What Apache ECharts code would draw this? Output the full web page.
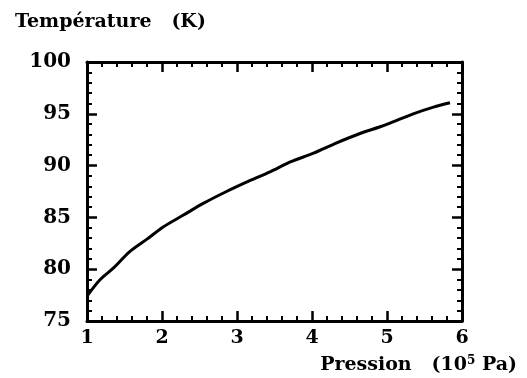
<!DOCTYPE html>
<html>
<head>
<meta charset="utf-8">
<script src="https://cdn.jsdelivr.net/npm/echarts@6/dist/echarts.min.js"></script>
<style>html,body{margin:0;padding:0;background:#fff}#c{width:527px;height:378px}</style>
</head>
<body>
<div id="c"></div>
<script>
const pressure = [1.00, 1.17, 1.35, 1.57, 1.80, 2.02, 2.28, 2.55, 2.86, 3.17, 3.44, 3.71, 4.02, 4.33, 4.64, 4.91, 5.04, 5.35, 5.62, 5.84];
const temperature = [77.4, 78.96, 80.1, 81.7, 82.9, 84.1, 85.2, 86.35, 87.5, 88.55, 89.4, 90.35, 91.2, 92.2, 93.1, 93.75, 94.1, 95.0, 95.65, 96.07];
const xTicks = [1, 2, 3, 4, 5, 6];
const yTicks = [75, 80, 85, 90, 95, 100];
const yTitle = 'Température   (K)';
const xTitle = 'Pression';

const font = 'DejaVu Serif';
const chart = echarts.init(document.getElementById('c'), null, {renderer: 'canvas'});
const axisCommon = {
  axisLine: {show: true, onZero: false, lineStyle: {color: '#000', width: 3}},
  axisTick: {show: true, inside: true, length: 10, lineStyle: {color: '#000', width: 2.5}},
  minorTick: {show: true, splitNumber: 5, length: 5, lineStyle: {color: '#000', width: 2}},
  splitLine: {show: false}
};
chart.setOption({
  animation: false,
  backgroundColor: '#fff',
  title: {
    text: yTitle, left: 10, top: 8,
    textStyle: {fontFamily: font, fontSize: 19, fontWeight: 'bold', color: '#000'}
  },
  grid: {left: 87, right: 65, top: 62, bottom: 57},
  xAxis: [
    Object.assign({}, axisCommon, {
      type: 'value', position: 'bottom', min: xTicks[0], max: xTicks[xTicks.length - 1], interval: 1,
      axisLabel: {color: '#000', fontFamily: font, fontWeight: 'bold', fontSize: 19, margin: 8},
      name: '{p|' + xTitle + '   (10}{s|5}{p| Pa)}', nameLocation: 'end', nameGap: 55,
      nameTextStyle: {
        color: '#000', fontFamily: font, fontSize: 19, fontWeight: 'bold', align: 'right', verticalAlign: 'top', padding: [34, 0, 0, 0],
        rich: {
          p: {fontFamily: font, fontSize: 19, fontWeight: 'bold', color: '#000'},
          s: {fontFamily: font, fontSize: 12, fontWeight: 'bold', color: '#000', verticalAlign: 'top', padding: [0, 0, 9, 0]}
        }
      }
    }),
    Object.assign({}, axisCommon, {
      type: 'value', position: 'top', min: xTicks[0], max: xTicks[xTicks.length - 1], interval: 1,
      axisLabel: {show: false}
    })
  ],
  yAxis: [
    Object.assign({}, axisCommon, {
      type: 'value', position: 'left', min: yTicks[0], max: yTicks[yTicks.length - 1], interval: 5,
      axisLabel: {color: '#000', fontFamily: font, fontWeight: 'bold', fontSize: 20, margin: 16}
    }),
    Object.assign({}, axisCommon, {
      type: 'value', position: 'right', min: yTicks[0], max: yTicks[yTicks.length - 1], interval: 5,
      axisLabel: {show: false}
    })
  ],
  series: [{
    type: 'line',
    data: pressure.map((p, i) => [p, temperature[i]]),
    smooth: 0.3,
    showSymbol: false,
    lineStyle: {color: '#000', width: 3},
    xAxisIndex: 0, yAxisIndex: 0
  }]
});
</script>
</body>
</html>
